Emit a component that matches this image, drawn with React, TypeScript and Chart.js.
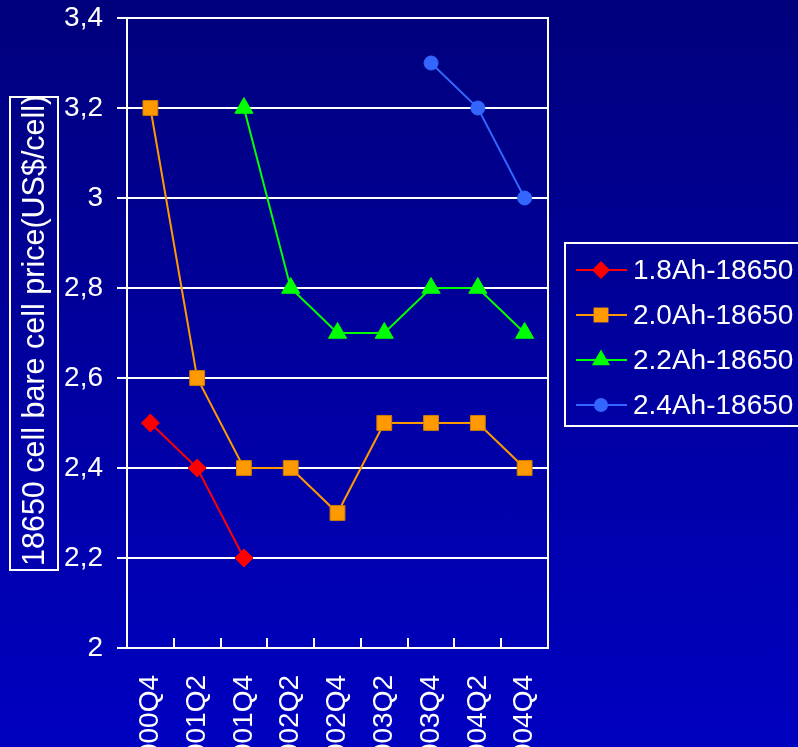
import { useEffect, useRef } from "react";
import { Chart, registerables } from "chart.js";

Chart.register(...registerables);

// Bare 18650 cell prices by half-year, US$ per cell
const quarters = ["2000Q4", "2001Q2", "2001Q4", "2002Q2", "2002Q4", "2003Q2", "2003Q4", "2004Q2", "2004Q4"];
const price18Ah = [2.5, 2.4, 2.2, null, null, null, null, null, null];
const price20Ah = [3.2, 2.6, 2.4, 2.4, 2.3, 2.5, 2.5, 2.5, 2.4];
const price22Ah = [null, null, 3.2, 2.8, 2.7, 2.7, 2.8, 2.8, 2.7];
const price24Ah = [null, null, null, null, null, null, 3.3, 3.2, 3.0];
const seriesNames = ["1.8Ah-18650", "2.0Ah-18650", "2.2Ah-18650", "2.4Ah-18650"];
const yAxisTitle = "18650 cell bare cell price(US$/cell)";
const yMin = 2;
const yMax = 3.4;
const yStep = 0.2;

const FONT = '"Liberation Sans", Arial, sans-serif';
const W = 798;
const H = 747;

function formatTick(v: number): string {
  return String(Number(v.toFixed(1))).replace(".", ",");
}

function drawMarker(ctx: CanvasRenderingContext2D, style: string, x: number, y: number, r: number) {
  ctx.beginPath();
  if (style === "rectRot") {
    ctx.moveTo(x, y - r);
    ctx.lineTo(x + r, y);
    ctx.lineTo(x, y + r);
    ctx.lineTo(x - r, y);
    ctx.closePath();
  } else if (style === "rect") {
    const s = r * Math.SQRT1_2;
    ctx.rect(x - s, y - s, 2 * s, 2 * s);
  } else if (style === "triangle") {
    for (let k = 0; k < 3; k++) {
      const a = (k * 2 * Math.PI) / 3;
      const px = x + Math.sin(a) * r;
      const py = y - Math.cos(a) * r;
      if (k === 0) ctx.moveTo(px, py);
      else ctx.lineTo(px, py);
    }
    ctx.closePath();
  } else {
    ctx.arc(x, y, r, 0, Math.PI * 2);
  }
  ctx.fill();
}

const decorations = {
  id: "decorations",
  afterDraw(chart: any) {
    const { ctx, chartArea: a, scales } = chart;
    ctx.save();
    ctx.strokeStyle = "#ffffff";
    ctx.lineWidth = 2;

    // frame around the plot
    ctx.strokeRect(a.left, a.top, a.right - a.left, a.bottom - a.top);

    // short tick marks between categories, pointing into the plot
    const xs = scales.x;
    for (let i = 0; i <= quarters.length; i++) {
      const px = Math.round(xs.getPixelForValue(i - 0.5));
      ctx.beginPath();
      ctx.moveTo(px, a.bottom);
      ctx.lineTo(px, a.bottom - 10);
      ctx.stroke();
    }

    // boxed vertical axis title
    const bx = 10, by = 97, bw = 48, bh = 473;
    ctx.strokeRect(bx, by, bw, bh);
    ctx.save();
    ctx.beginPath();
    ctx.rect(bx + 1, by + 1, bw - 2, bh - 2);
    ctx.clip();
    ctx.translate(44, 566);
    ctx.rotate(-Math.PI / 2);
    ctx.fillStyle = "#ffffff";
    ctx.font = `30.5px ${FONT}`;
    ctx.textAlign = "left";
    ctx.textBaseline = "alphabetic";
    ctx.fillText(yAxisTitle, 0, 0);
    ctx.restore();

    // legend
    ctx.strokeRect(565, 243, 260, 183);
    ctx.font = `28px ${FONT}`;
    ctx.textAlign = "left";
    ctx.textBaseline = "alphabetic";
    chart.data.datasets.forEach((ds: any, i: number) => {
      const cy = 270 + i * 45;
      ctx.strokeStyle = ds.borderColor;
      ctx.lineWidth = 2;
      ctx.beginPath();
      ctx.moveTo(576, cy);
      ctx.lineTo(627, cy);
      ctx.stroke();
      ctx.fillStyle = ds.pointBackgroundColor;
      drawMarker(ctx, ds.pointStyle, 601, cy, ds.pointRadius);
      ctx.fillStyle = "#ffffff";
      ctx.fillText(ds.label, 633, cy + 9);
    });
    ctx.restore();
  },
};

export default function App() {
  const canvasRef = useRef<HTMLCanvasElement | null>(null);

  useEffect(() => {
    const canvas = canvasRef.current;
    if (!canvas) return;
    const mk = (label: string, data: (number | null)[], color: string, style: string, radius: number, pointBorder: string) => ({
      label,
      data,
      borderColor: color,
      backgroundColor: color,
      borderWidth: 2,
      pointStyle: style,
      pointRadius: radius,
      pointHoverRadius: radius,
      pointBackgroundColor: color,
      pointBorderColor: pointBorder,
      pointBorderWidth: 1,
      tension: 0,
      clip: false as any,
    });
    const chart = new Chart(canvas, {
      type: "line",
      data: {
        labels: quarters,
        datasets: [
          mk(seriesNames[0], price18Ah, "#ff0000", "rectRot", 9, "#ff0000"),
          mk(seriesNames[1], price20Ah, "#ff9900", "rect", 10.5, "#d07c00"),
          mk(seriesNames[2], price22Ah, "#00ff00", "triangle", 10.5, "#00ff00"),
          mk(seriesNames[3], price24Ah, "#3366ff", "circle", 7, "#3366ff"),
        ],
      },
      options: {
        responsive: false,
        animation: false,
        devicePixelRatio: 1,
        layout: { padding: { top: 18, right: 250, left: 0, bottom: 0 }, autoPadding: false },
        plugins: {
          legend: { display: false },
          tooltip: { enabled: false },
        },
        scales: {
          x: {
            offset: true,
            grid: { display: false, drawTicks: false, offset: true },
            border: { display: true, color: "#ffffff", width: 2 },
            ticks: {
              color: "#ffffff",
              font: { family: FONT, size: 28 },
              autoSkip: false,
              minRotation: 90,
              maxRotation: 90,
              padding: 27,
            },
            afterFit(scale: any) {
              scale.height = 99;
              scale.paddingLeft = 0;
              scale.paddingRight = 0;
            },
          },
          y: {
            min: yMin,
            max: yMax,
            grid: { color: "#ffffff", lineWidth: 2, tickLength: 10, drawTicks: true },
            border: { display: true, color: "#ffffff", width: 2 },
            ticks: {
              stepSize: yStep,
              color: "#ffffff",
              font: { family: FONT, size: 28 },
              padding: 14,
              callback: (v: any) => formatTick(Number(v)),
            },
            afterFit(scale: any) {
              scale.width = 127;
              scale.paddingTop = 0;
              scale.paddingBottom = 0;
            },
          },
        },
      },
      plugins: [decorations],
    });
    return () => chart.destroy();
  }, []);

  return (
    <div
      style={{
        position: "fixed",
        left: 0,
        top: 0,
        width: W,
        height: H,
        overflow: "hidden",
        background: "linear-gradient(to bottom, #00007c 0%, #0000a0 50%, #0000c0 100%)",
      }}
    >
      <canvas ref={canvasRef} width={W} height={H} style={{ display: "block", width: W, height: H }} />
    </div>
  );
}
